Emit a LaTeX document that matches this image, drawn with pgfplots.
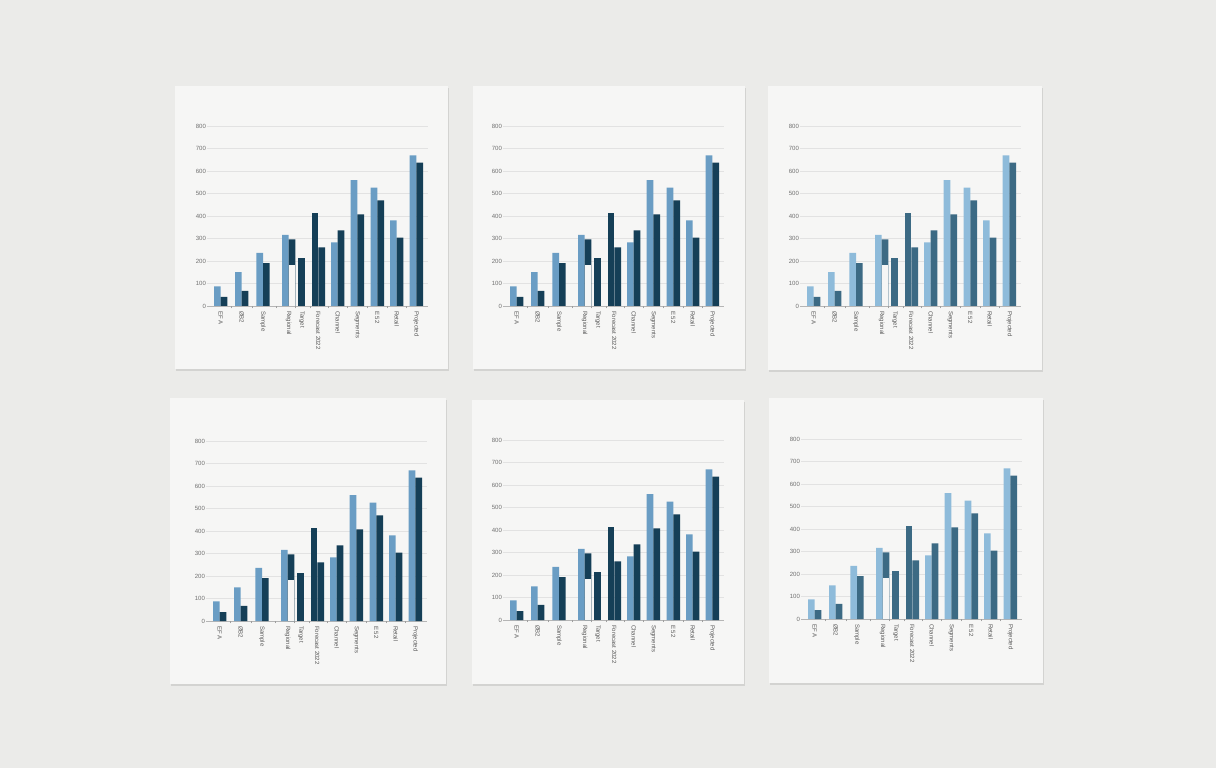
\documentclass[border=0pt]{standalone}
\usepackage{pgfplots}
\pgfplotsset{compat=1.18}
\usepackage{pgfplotstable}
\usepackage{fontspec}
\setmainfont{Liberation Sans}
\usetikzlibrary{shadows}
\definecolor{bg}{HTML}{EBEBE9}
\definecolor{paper}{HTML}{F6F6F5}
\definecolor{gridc}{HTML}{E2E2E2}
\definecolor{tickc}{HTML}{707070}
\definecolor{lightA}{HTML}{6A9DC4}
\definecolor{darkA}{HTML}{153F57}
\definecolor{lightB}{HTML}{8EBBDA}
\definecolor{darkB}{HTML}{3C6A84}

% x = horizontal position of each category inside the plot (irregular spacing as in the reference)
\pgfplotstableread{
x light dark
13.7 87 40
34.7 150 67
56.0 236 191
81.7 316 296
94.7 nan nan
111.3 nan 261
130.7 283 336
150.3 559 407
170.3 526 470
189.7 381 304
209.3 670 637
}\maintab
\pgfplotstableread{
x val
94.7 212
}\midtab
\pgfplotstableread{
x val
111.3 413
}\lefttab
\pgfplotstableread{
x val
81.7 181
}\gaptab

\pgfplotsset{panel/.style={
  scale only axis, width=55.25mm, height=45mm,
  xmin=0, xmax=221, ymin=0, ymax=800,
  ybar, bar width=6.7,
  axis lines*=left, axis line style={-},
  y axis line style={draw=none},
  x axis line style={draw=gridc!80!black, line width=0.3pt},
  ymajorgrids, grid style={gridc, line width=0.35pt},
  major tick length=0pt,
  ytick={0,100,...,800},
  /pgf/number format/assume math mode=true,
  /pgf/number format/set thousands separator={},
  yticklabel style={font=\fontsize{4.3}{5}\selectfont, color=tickc, inner sep=0.6pt},
  xtick={13.7,34.7,56.0,81.7,94.7,111.3,130.7,150.3,170.3,189.7,209.3},
  xticklabels={EF A, ØB2, Sample, Regional, Target, Forecast 2022, Channel, Segments, E 52, Retail, Projected},
  xticklabel style={font=\fontsize{4.3}{5}\selectfont, color=tickc!80!black, rotate=-90, anchor=west, inner sep=0pt},
  xticklabel shift=1.2mm,
  extra x ticks={24.2,45.35,68.85,88.2,103,121,140.5,160.3,180,199.5},
  extra x tick labels={},
  extra x tick style={grid=none, major tick length=0.6mm, tick align=outside, tick style={gridc!70!black, line width=0.3pt}},
}}

\newcommand{\panel}[8]{%
  \begin{scope}[x=0.25mm,y=0.25mm]
    \fill[paper, drop shadow={shadow xshift=0.35mm, shadow yshift=-0.45mm, opacity=0.10, fill=black}] (#1,{768-#2}) rectangle (#3,{768-#4});
  \end{scope}
  \begin{axis}[panel, at={({#5*0.25mm},{(768-#6)*0.25mm})}]
    \addplot[fill=#7, draw=none, bar shift=-3.35] table[x=x, y=light] {\maintab};
    \addplot[fill=#8, draw=none, bar shift=3.35] table[x=x, y=dark] {\maintab};
    \addplot[fill=paper, draw=none, bar shift=3.35] table[x=x, y=val] {\gaptab};
    \addplot[fill=#8, draw=none, bar shift=0] table[x=x, y=val] {\midtab};
    \addplot[fill=#8, draw=none, bar shift=-3.35] table[x=x, y=val] {\lefttab};
  \end{axis}%
}

\begin{document}
\begin{tikzpicture}
  \begin{scope}[x=0.25mm,y=0.25mm]
    \fill[bg] (0,0) rectangle (1216,768);
  \end{scope}
  \panel{175}{86}{448}{369}{207}{306}{lightA}{darkA}
  \panel{473}{86}{745}{369}{503}{306}{lightA}{darkA}
  \panel{768}{86}{1042}{370}{800}{306}{lightB}{darkB}
  \panel{170}{398}{446}{684}{206}{621}{lightA}{darkA}
  \panel{472}{400}{744}{684}{503}{620}{lightA}{darkA}
  \panel{769}{398}{1043}{683}{801}{619}{lightB}{darkB}
\end{tikzpicture}
\end{document}
